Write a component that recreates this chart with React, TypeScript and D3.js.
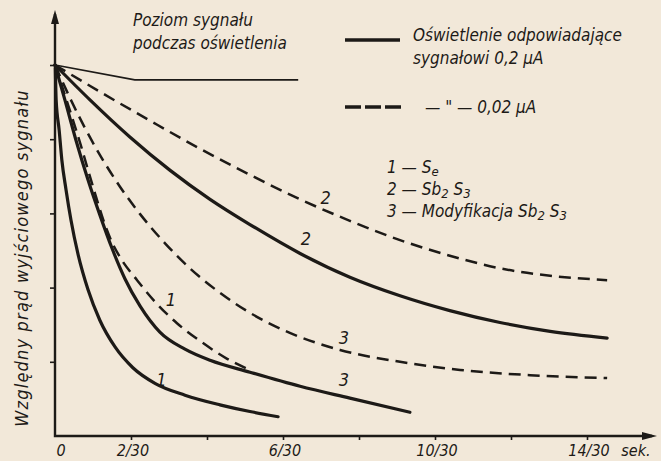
import React, { useEffect, useRef } from 'react';
import * as d3 from 'd3';

// time in 1/30 s, signal in tick units (5 = level during illumination)
const solid1T = [0.01, 0.03, 0.11, 0.18, 0.29, 0.42, 0.61, 0.87, 1.18, 1.58, 2.05, 2.63, 3.42, 4.34, 5.13, 5.87];
const solid1V = [4.96, 4.53, 4.12, 3.72, 3.32, 2.91, 2.44, 1.97, 1.56, 1.2, 0.92, 0.71, 0.55, 0.42, 0.33, 0.26];
const solid2T = [0, 0.92, 1.97, 3.03, 4.08, 5.13, 6.45, 7.76, 9.08, 10.39, 11.71, 13.03, 14.53];
const solid2V = [5, 4.53, 4.03, 3.58, 3.19, 2.85, 2.46, 2.14, 1.89, 1.69, 1.53, 1.41, 1.32];
const solid3T = [0, 0.26, 0.55, 0.87, 1.18, 1.5, 1.84, 2.24, 2.76, 3.42, 4.08, 5.13, 6.45, 7.76, 9.34];
const solid3V = [5, 4.53, 3.99, 3.45, 2.98, 2.53, 2.12, 1.75, 1.4, 1.17, 1.02, 0.86, 0.67, 0.51, 0.32];
const dashed1T = [0, 0.32, 0.66, 0.97, 1.32, 1.5, 1.71, 2.16, 2.63, 3.21, 3.82, 4.53, 5.18];
const dashed1V = [5, 4.5, 3.95, 3.41, 2.84, 2.61, 2.41, 2.1, 1.81, 1.52, 1.28, 1.04, 0.88];
const dashed2T = [0, 1.18, 2.5, 3.82, 5.13, 6.45, 7.76, 9.08, 10.39, 11.71, 13.03, 14.53];
const dashed2V = [5, 4.64, 4.25, 3.87, 3.52, 3.19, 2.9, 2.64, 2.43, 2.26, 2.16, 2.1];
const dashed3T = [0, 0.39, 0.79, 1.18, 1.71, 2.24, 2.89, 3.55, 4.34, 5.13, 6.18, 7.5, 9.08, 10.66, 12.5, 14.53];
const dashed3V = [5, 4.56, 4.15, 3.79, 3.36, 2.99, 2.6, 2.26, 1.93, 1.66, 1.39, 1.16, 1.0, 0.89, 0.82, 0.78];
const levelT = [0, 2.1, 6.4];
const levelV = [5, 4.8, 4.8];

const yTicks = [1, 2, 3, 4, 5];
const xTicks = [2, 4, 6, 8, 10, 12, 14];
const xLabels = ['2/30', '6/30', '10/30', '14/30'];
const xLabelAt = [2, 6, 10, 14];

const curveLabels = [
  { t: 2.8, v: 0.68, s: '1' },
  { t: 3.05, v: 1.75, s: '1' },
  { t: 7.12, v: 3.12, s: '2' },
  { t: 6.6, v: 2.58, s: '2' },
  { t: 7.6, v: 1.24, s: '3' },
  { t: 7.6, v: 0.68, s: '3' },
];

const INK = '#1d1a17';
const FONT = '"DejaVu Sans Condensed", "DejaVu Sans", sans-serif';

export default function App() {
  const svgRef = useRef<SVGSVGElement>(null);

  useEffect(() => {
    const svg = d3.select(svgRef.current);
    svg.selectAll('*').remove();

    const x = d3.scaleLinear().domain([0, 15]).range([55, 625]);
    const y = d3.scaleLinear().domain([0, 5]).range([436, 65]);

    svg.append('rect').attr('width', 661).attr('height', 461).attr('fill', '#f2e8d9');

    // axes
    svg.append('g')
      .attr('transform', `translate(${x(0)},0)`)
      .call(d3.axisLeft(y).tickValues(yTicks).tickSize(5).tickFormat(() => ''))
      .call(g => g.select('.domain').remove())
      .call(g => g.selectAll('line').attr('stroke', INK).attr('stroke-width', 1.6));
    svg.append('g')
      .attr('transform', `translate(0,${y(0)})`)
      .call(d3.axisBottom(x).tickValues(xTicks).tickSize(4).tickFormat(() => ''))
      .call(g => g.select('.domain').remove())
      .call(g => g.selectAll('line').attr('stroke', INK).attr('stroke-width', 1.6));

    svg.append('path')
      .attr('d', `M${x(0)},14 V${y(0)} H652`)
      .attr('fill', 'none').attr('stroke', INK).attr('stroke-width', 2.4);
    svg.append('path')
      .attr('d', `M${x(0)},10 l-4,14 l8,0 z`)
      .attr('fill', INK);
    svg.append('path')
      .attr('d', `M657,${y(0)} l-15,-4 l0,8 z`)
      .attr('fill', INK);

    const mk = (ts: number[], vs: number[]) => ts.map((t, i) => [t, vs[i]] as [number, number]);
    const line = d3.line<[number, number]>()
      .x(d => x(d[0]))
      .y(d => y(d[1]))
      .curve(d3.curveMonotoneX);

    // illumination level marker
    svg.append('path')
      .attr('d', d3.line<[number, number]>().x(d => x(d[0])).y(d => y(d[1]))(mk(levelT, levelV)))
      .attr('fill', 'none').attr('stroke', INK).attr('stroke-width', 1.6);

    const solids = [mk(solid1T, solid1V), mk(solid2T, solid2V), mk(solid3T, solid3V)];
    const dashes = [mk(dashed1T, dashed1V), mk(dashed2T, dashed2V), mk(dashed3T, dashed3V)];

    solids.forEach(d => {
      svg.append('path').attr('d', line(d))
        .attr('fill', 'none').attr('stroke', INK).attr('stroke-width', 3.2)
        .attr('stroke-linecap', 'round');
    });
    dashes.forEach(d => {
      svg.append('path').attr('d', line(d))
        .attr('fill', 'none').attr('stroke', INK).attr('stroke-width', 2.5)
        .attr('stroke-dasharray', '12,7');
    });

    const txt = (px: number, py: number, s: string, size = 17, anchor = 'start') =>
      svg.append('text')
        .attr('x', px).attr('y', py)
        .attr('font-family', FONT).attr('font-style', 'italic')
        .attr('font-size', size).attr('fill', INK)
        .attr('text-anchor', anchor)
        .text(s);

    curveLabels.forEach(l => txt(x(l.t), y(l.v), l.s, 18, 'middle'));

    // x labels
    txt(x(0) + 6, 456, '0', 16, 'middle');
    xLabelAt.forEach((t, i) => txt(x(t) + 2, 456, xLabels[i], 16, 'middle'));
    txt(636, 456, 'sek.', 16, 'middle');

    // y label
    svg.append('text')
      .attr('transform', `translate(28,258) rotate(-90)`)
      .attr('font-family', FONT).attr('font-style', 'italic')
      .attr('font-size', 18).attr('letter-spacing', 1.2)
      .attr('fill', INK).attr('text-anchor', 'middle')
      .text('Względny prąd wyjściowego sygnału');

    // legends
    txt(133, 26, 'Poziom sygnału');
    txt(133, 49, 'podczas oświetlenia');

    svg.append('line').attr('x1', 345).attr('x2', 400).attr('y1', 40).attr('y2', 40)
      .attr('stroke', INK).attr('stroke-width', 3.6);
    txt(413, 41, 'Oświetlenie odpowiadające');
    txt(413, 64, 'sygnałowi  0,2 μA');
    svg.append('line').attr('x1', 345).attr('x2', 402).attr('y1', 107).attr('y2', 107)
      .attr('stroke', INK).attr('stroke-width', 3.6).attr('stroke-dasharray', '16,4');
    txt(425, 113, '— " —   0,02 μA');

    const sub = (py: number, parts: [string, boolean][]) => {
      const t = svg.append('text').attr('x', 387).attr('y', py)
        .attr('font-family', FONT).attr('font-style', 'italic')
        .attr('font-size', 17).attr('fill', INK);
      parts.forEach(([s, low]) => {
        t.append('tspan')
          .attr('baseline-shift', low ? '-25%' : '0')
          .attr('font-size', low ? 13 : 17)
          .text(s);
      });
    };
    sub(173, [['1 — S', false], ['e', true]]);
    sub(195, [['2 — Sb', false], ['2', true], [' S', false], ['3', true]]);
    sub(217, [['3 — Modyfikacja Sb', false], ['2', true], [' S', false], ['3', true]]);
  }, []);

  return (
    <svg ref={svgRef} width={661} height={461}
      style={{ position: 'fixed', left: 0, top: 0 }} />
  );
}
